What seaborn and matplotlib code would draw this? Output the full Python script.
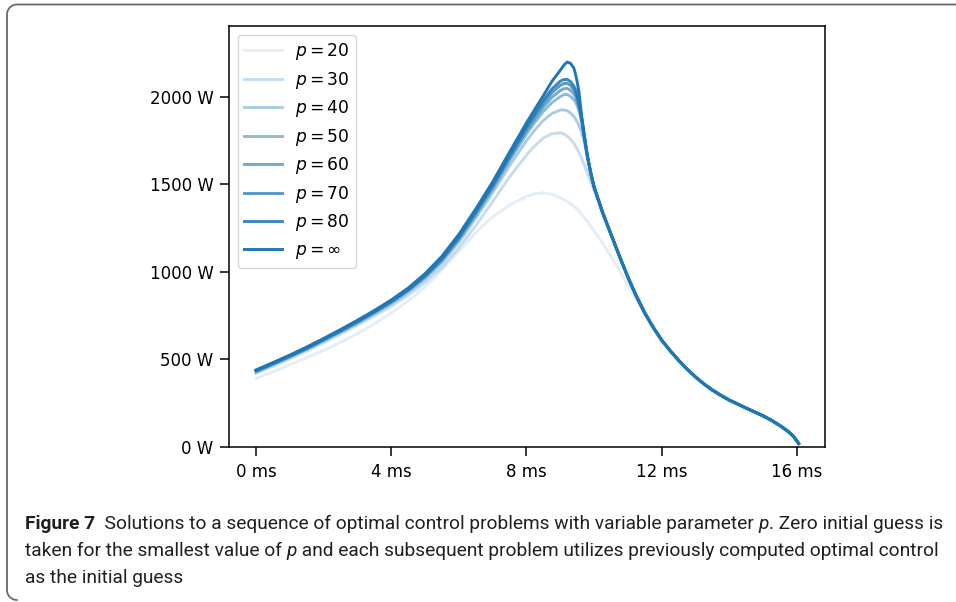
import numpy as np
import pandas as pd
import matplotlib
matplotlib.use("Agg")
import matplotlib.pyplot as plt
import seaborn as sns
from matplotlib.lines import Line2D

plt.rcParams["font.family"] = ["DejaVu Sans"]

# ---------------- data ----------------
# time grid (ms) where the curves still differ
t_main = [0, 0.5, 1, 1.5, 2, 2.5, 3, 3.5, 4, 4.5, 5, 5.5, 6, 6.5, 7, 7.5, 8, 8.25,
          8.5, 8.75, 9.0, 9.1, 9.2, 9.3, 9.4, 9.45, 9.5, 9.55, 9.6, 9.65, 9.7, 9.8,
          9.9, 10.0, 10.25, 10.5, 10.75, 11.0, 11.25, 11.5, 11.75, 12.0]
# time grid (ms) after all curves have merged
t_tail = [12.25, 12.5, 12.75, 13, 13.25, 13.5, 13.75, 14, 14.5, 15, 15.25, 15.5,
          15.75, 15.9, 16.0, 16.05]
tail = [550, 495, 445, 400, 360, 325, 295, 268, 222, 178, 152, 122, 87, 60, 34, 20]

# descending branch shared by p >= 30 from 10 ms on
merged = [1340, 1215, 1090, 970, 862, 765, 683, 610]

pinf = [440, 482, 525, 571, 620, 671, 724, 780, 840, 908, 990, 1090, 1215, 1360, 1515,
        1685, 1852, 1930, 2008, 2088, 2152, 2180, 2199, 2192, 2165, 2130, 2085, 2030,
        1945, 1860, 1785, 1660, 1565, 1485] + merged
p80 = [438, 480, 523, 569, 618, 669, 721, 777, 836, 904, 985, 1084, 1208, 1352, 1505,
       1673, 1836, 1910, 1982, 2045, 2090, 2099, 2100, 2088, 2062, 2042, 2012, 1972,
       1922, 1862, 1795, 1665, 1567, 1485] + merged
p70 = [437, 479, 522, 567, 616, 667, 719, 775, 833, 901, 981, 1079, 1202, 1345, 1497,
       1663, 1823, 1895, 1964, 2024, 2066, 2076, 2078, 2066, 2042, 2024, 1997, 1960,
       1912, 1855, 1790, 1665, 1567, 1485] + merged
p60 = [435, 477, 520, 565, 614, 664, 716, 772, 830, 897, 976, 1073, 1195, 1337, 1487,
       1651, 1808, 1877, 1942, 1998, 2036, 2046, 2049, 2038, 2017, 2001, 1977, 1944,
       1900, 1847, 1786, 1662, 1566, 1485] + merged
p50 = [432, 474, 517, 562, 611, 661, 713, 768, 826, 892, 970, 1065, 1185, 1325, 1475,
       1635, 1788, 1855, 1917, 1967, 2002, 2012, 2014, 2004, 1985, 1971, 1950, 1922,
       1884, 1837, 1780, 1660, 1565, 1485] + merged
p40 = [428, 470, 513, 558, 606, 656, 707, 762, 819, 884, 960, 1053, 1170, 1307, 1453,
       1607, 1750, 1812, 1866, 1905, 1925, 1926, 1921, 1908, 1888, 1875, 1858, 1838,
       1813, 1783, 1748, 1660, 1565, 1485] + merged
p30 = [420, 461, 504, 548, 596, 645, 696, 749, 804, 867, 940, 1028, 1138, 1265, 1402,
       1543, 1668, 1722, 1765, 1790, 1795, 1789, 1777, 1759, 1734, 1719, 1702, 1683,
       1662, 1640, 1616, 1566, 1516, 1466] + merged
p20 = [392, 430, 470, 510, 552, 598, 648, 703, 765, 835, 915, 1012, 1117, 1226, 1315,
       1382, 1432, 1447, 1452, 1444, 1425, 1415, 1403, 1390, 1375, 1366, 1357, 1347,
       1336, 1324, 1312, 1288, 1262, 1235, 1165, 1088, 1007, 925, 840, 760, 680, 608]

series = [p20, p30, p40, p50, p60, p70, p80, pinf]
labels = [r"$p = 20$", r"$p = 30$", r"$p = 40$", r"$p = 50$", r"$p = 60$",
          r"$p = 70$", r"$p = 80$", r"$p = \infty$"]

xticks = [0, 4, 8, 12, 16]
xticklabels = ["0 ms", "4 ms", "8 ms", "12 ms", "16 ms"]
yticks = [0, 500, 1000, 1500, 2000]
yticklabels = ["0 W", "500 W", "1000 W", "1500 W", "2000 W"]

caption_lines = [
    [("Figure 7", "bold"), ("  Solutions to a sequence of optimal control problems with variable parameter ", "normal"),
     ("p", "italic"), (". Zero initial guess is", "normal")],
    [("taken for the smallest value of ", "normal"), ("p", "italic"),
     (" and each subsequent problem utilizes previously computed optimal control", "normal")],
    [("as the initial guess", "normal")],
]

# ---------------- figure ----------------
W, H = 956, 602
fig = plt.figure(figsize=(W / 100, H / 100), dpi=100)
fig.patch.set_facecolor("white")

ax = fig.add_axes([229 / W, 1 - 447 / H, (825 - 229) / W, (447 - 26) / H])

t_all = t_main + t_tail
base = "#1f77b4"
n = len(series)
for i, (vals, lab) in enumerate(zip(series, labels)):
    df = pd.DataFrame({"t": t_all, "P": list(vals) + tail})
    sns.lineplot(data=df, x="t", y="P", ax=ax, color=base, alpha=(i + 1) / n,
                 linewidth=2.1, label=lab, sort=False, estimator=None)

ax.set_xlim(-0.8, 16.83)
ax.set_ylim(0, 2405)
ax.set_xticks(xticks)
ax.set_xticklabels(xticklabels)
ax.set_yticks(yticks)
ax.set_yticklabels(yticklabels)
ax.set_xlabel("")
ax.set_ylabel("")
ax.tick_params(axis="both", labelsize=12, length=6.2, width=1.1, pad=5, color="black")
for s in ax.spines.values():
    s.set_linewidth(1.1)
    s.set_color("black")

leg = ax.legend(loc="upper left", fontsize=12.3, handlelength=2.2, labelspacing=0.44,
                handletextpad=0.75, borderaxespad=0.5, framealpha=0.8, edgecolor="0.8")

# ---------------- outer frame ----------------
def fx(px):
    return px / W

def fy(py):
    return 1 - py / H

r = 10
th = np.linspace(np.pi / 2, np.pi, 20)
cx, cy = 7 + r, 4.5 + r
xs = [W + 2] + list(cx + r * np.cos(th)) + [7]
ys = [4.5] + list(cy - r * np.sin(th)) + [590]
th2 = np.linspace(np.pi, np.pi * 1.5, 20)
cx2, cy2 = 7 + r, 590
xs += list(cx2 + r * np.cos(th2))
ys += list(cy2 - r * np.sin(th2))
fig.add_artist(Line2D([fx(v) for v in xs], [fy(v) for v in ys], color="#6a6a6a",
                      linewidth=1.3, transform=fig.transFigure, solid_capstyle="round"))

# ---------------- caption ----------------
cap_family = ["Roboto", "DejaVu Sans"]
cap_size = 13.8
fig.canvas.draw()
renderer = fig.canvas.get_renderer()
baselines = [529, 556, 583]
for line, by in zip(caption_lines, baselines):
    x = 25
    for txt, sty in line:
        kw = dict(family=cap_family, fontsize=cap_size, color="#231f20", va="baseline", ha="left")
        if sty == "bold":
            kw["fontweight"] = "bold"
        if sty == "italic":
            kw["fontstyle"] = "italic"
        tt = fig.text(fx(x), fy(by), txt, **kw)
        bb = tt.get_window_extent(renderer)
        x = bb.x1

fig.savefig("out.png", dpi=100)
